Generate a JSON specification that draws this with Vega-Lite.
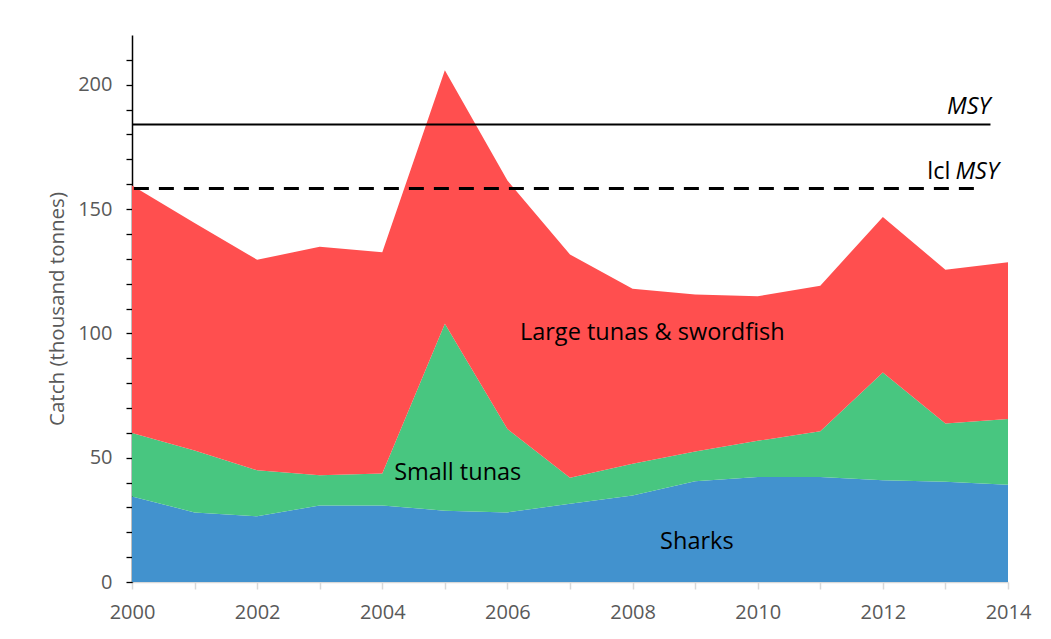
{
  "$schema": "https://vega.github.io/schema/vega-lite/v6.json",
  "width": 876,
  "height": 547,
  "autosize": "none",
  "padding": {"left": 132, "top": 35, "right": 43, "bottom": 57},
  "background": "white",
  "config": {
    "font": "Open Sans",
    "view": {"stroke": null},
    "axis": {"grid": false, "labelFont": "Open Sans", "titleFont": "Open Sans", "labelOverlap": false}
  },
  "datasets": {
    "catch": [
      {"year": 2000, "group": "Sharks", "k": 1, "catch": 34.4},
      {"year": 2001, "group": "Sharks", "k": 1, "catch": 28.0},
      {"year": 2002, "group": "Sharks", "k": 1, "catch": 26.4},
      {"year": 2003, "group": "Sharks", "k": 1, "catch": 30.8},
      {"year": 2004, "group": "Sharks", "k": 1, "catch": 30.8},
      {"year": 2005, "group": "Sharks", "k": 1, "catch": 28.7},
      {"year": 2006, "group": "Sharks", "k": 1, "catch": 28.0},
      {"year": 2007, "group": "Sharks", "k": 1, "catch": 31.5},
      {"year": 2008, "group": "Sharks", "k": 1, "catch": 34.8},
      {"year": 2009, "group": "Sharks", "k": 1, "catch": 40.5},
      {"year": 2010, "group": "Sharks", "k": 1, "catch": 42.2},
      {"year": 2011, "group": "Sharks", "k": 1, "catch": 42.2},
      {"year": 2012, "group": "Sharks", "k": 1, "catch": 40.9},
      {"year": 2013, "group": "Sharks", "k": 1, "catch": 40.3},
      {"year": 2014, "group": "Sharks", "k": 1, "catch": 39.1},
      {"year": 2000, "group": "Small tunas", "k": 2, "catch": 25.5},
      {"year": 2001, "group": "Small tunas", "k": 2, "catch": 24.9},
      {"year": 2002, "group": "Small tunas", "k": 2, "catch": 18.5},
      {"year": 2003, "group": "Small tunas", "k": 2, "catch": 12.1},
      {"year": 2004, "group": "Small tunas", "k": 2, "catch": 12.8},
      {"year": 2005, "group": "Small tunas", "k": 2, "catch": 75.2},
      {"year": 2006, "group": "Small tunas", "k": 2, "catch": 33.5},
      {"year": 2007, "group": "Small tunas", "k": 2, "catch": 10.4},
      {"year": 2008, "group": "Small tunas", "k": 2, "catch": 12.8},
      {"year": 2009, "group": "Small tunas", "k": 2, "catch": 12.0},
      {"year": 2010, "group": "Small tunas", "k": 2, "catch": 14.6},
      {"year": 2011, "group": "Small tunas", "k": 2, "catch": 18.4},
      {"year": 2012, "group": "Small tunas", "k": 2, "catch": 43.4},
      {"year": 2013, "group": "Small tunas", "k": 2, "catch": 23.4},
      {"year": 2014, "group": "Small tunas", "k": 2, "catch": 26.5},
      {"year": 2000, "group": "Large tunas & swordfish", "k": 3, "catch": 99.6},
      {"year": 2001, "group": "Large tunas & swordfish", "k": 3, "catch": 91.5},
      {"year": 2002, "group": "Large tunas & swordfish", "k": 3, "catch": 84.7},
      {"year": 2003, "group": "Large tunas & swordfish", "k": 3, "catch": 91.9},
      {"year": 2004, "group": "Large tunas & swordfish", "k": 3, "catch": 89.0},
      {"year": 2005, "group": "Large tunas & swordfish", "k": 3, "catch": 101.9},
      {"year": 2006, "group": "Large tunas & swordfish", "k": 3, "catch": 100.0},
      {"year": 2007, "group": "Large tunas & swordfish", "k": 3, "catch": 89.8},
      {"year": 2008, "group": "Large tunas & swordfish", "k": 3, "catch": 70.3},
      {"year": 2009, "group": "Large tunas & swordfish", "k": 3, "catch": 63.1},
      {"year": 2010, "group": "Large tunas & swordfish", "k": 3, "catch": 58.1},
      {"year": 2011, "group": "Large tunas & swordfish", "k": 3, "catch": 58.6},
      {"year": 2012, "group": "Large tunas & swordfish", "k": 3, "catch": 62.5},
      {"year": 2013, "group": "Large tunas & swordfish", "k": 3, "catch": 61.9},
      {"year": 2014, "group": "Large tunas & swordfish", "k": 3, "catch": 63.0}
    ],
    "msy": [{"name": "MSY", "year": 2000, "year2": 2013.72, "catch": 184}],
    "lcl": [{"name": "lcl MSY", "year": 2000.03, "year2": 2013.57, "catch": 158.3}],
    "labels": [
      {"text": "Large tunas & swordfish", "year": 2006.2, "catch": 97.2},
      {"text": "Small tunas", "year": 2004.19, "catch": 40.9},
      {"text": "Sharks", "year": 2008.44, "catch": 13.3}
    ],
    "msyLabels": [
      {"text": "MSY", "year": 2013.72, "catch": 188.4}
    ],
    "lclLabels": [
      {"text": "lcl", "year": 2013.08, "catch": 162.2}
    ],
    "lclMsyLabels": [
      {"text": "MSY", "year": 2013.16, "catch": 162.2}
    ]
  },
  "encoding": {
    "x": {
      "field": "year", "type": "quantitative",
      "scale": {"domain": [2000, 2014], "nice": false, "zero": false},
      "axis": {
        "values": [2000, 2001, 2002, 2003, 2004, 2005, 2006, 2007, 2008, 2009, 2010, 2011, 2012, 2013, 2014],
        "format": "d",
        "labelExpr": "datum.value % 2 === 0 ? datum.label : ''",
        "title": null,
        "domainColor": "#D9D9D9",
        "domainWidth": 1.5,
        "tickColor": "#D9D9D9",
        "tickWidth": 1.5,
        "tickSize": 7,
        "labelFontSize": 20,
        "labelColor": "#595959",
        "labelPadding": 13,
        "labelFlush": false,
        "labelOverlap": false
      }
    },
    "y": {
      "field": "catch", "type": "quantitative",
      "scale": {"domain": [0, 220], "nice": false},
      "axis": {
        "values": [0, 10, 20, 30, 40, 50, 60, 70, 80, 90, 100, 110, 120, 130, 140, 150, 160, 170, 180, 190, 200, 210],
        "labelExpr": "datum.value % 50 === 0 ? datum.label : ''",
        "title": "Catch (thousand tonnes)",
        "titleFontSize": 20.5,
        "titleFontWeight": "normal",
        "titleColor": "#595959",
        "titlePadding": 10,
        "domainColor": "#000000",
        "domainWidth": 1.5,
        "tickColor": "#000000",
        "tickWidth": 1.3,
        "tickSize": 6,
        "labelFontSize": 20,
        "labelColor": "#595959",
        "labelPadding": 14,
        "labelOverlap": false
      }
    }
  },
  "layer": [
    {
      "data": {"name": "catch"},
      "mark": {"type": "area", "strokeWidth": 0, "opacity": 1},
      "encoding": {
        "y": {
          "field": "catch", "type": "quantitative", "stack": "zero",
          "scale": {"domain": [0, 220], "nice": false},
          "axis": {
            "values": [0, 10, 20, 30, 40, 50, 60, 70, 80, 90, 100, 110, 120, 130, 140, 150, 160, 170, 180, 190, 200, 210],
            "labelExpr": "datum.value % 50 === 0 ? datum.label : ''",
            "title": "Catch (thousand tonnes)",
            "titleFontSize": 20.5,
            "titleFontWeight": "normal",
            "titleColor": "#595959",
            "titlePadding": 10,
            "domainColor": "#000000",
            "domainWidth": 1.5,
            "tickColor": "#000000",
            "tickWidth": 1.3,
            "tickSize": 6,
            "labelFontSize": 20,
            "labelColor": "#595959",
            "labelPadding": 14,
            "labelOverlap": false
          }
        },
        "color": {
          "field": "group", "type": "nominal",
          "scale": {"domain": ["Sharks", "Small tunas", "Large tunas & swordfish"], "range": ["#4292CE", "#48C680", "#FF4F4F"]},
          "legend": null
        },
        "order": {"field": "k", "type": "quantitative", "sort": "ascending"}
      }
    },
    {
      "data": {"name": "msy"},
      "mark": {"type": "rule", "color": "#000000", "strokeWidth": 2},
      "encoding": {
        "x2": {"field": "year2"}
      }
    },
    {
      "data": {"name": "lcl"},
      "mark": {"type": "rule", "color": "#000000", "strokeWidth": 3, "strokeDash": [15, 10]},
      "encoding": {
        "x2": {"field": "year2"}
      }
    },
    {
      "data": {"name": "labels"},
      "mark": {"type": "text", "align": "left", "baseline": "alphabetic", "fontSize": 23.5, "font": "Open Sans", "color": "#000000"},
      "encoding": {
        "text": {"field": "text"}
      }
    },
    {
      "data": {"name": "msyLabels"},
      "mark": {"type": "text", "align": "right", "baseline": "alphabetic", "fontSize": 23.5, "font": "Open Sans", "fontStyle": "italic", "color": "#000000"},
      "encoding": {
        "text": {"field": "text"}
      }
    },
    {
      "data": {"name": "lclLabels"},
      "mark": {"type": "text", "align": "right", "baseline": "alphabetic", "fontSize": 23.5, "font": "Open Sans", "color": "#000000"},
      "encoding": {
        "text": {"field": "text"}
      }
    },
    {
      "data": {"name": "lclMsyLabels"},
      "mark": {"type": "text", "align": "left", "baseline": "alphabetic", "fontSize": 23.5, "font": "Open Sans", "fontStyle": "italic", "color": "#000000"},
      "encoding": {
        "text": {"field": "text"}
      }
    }
  ]
}
